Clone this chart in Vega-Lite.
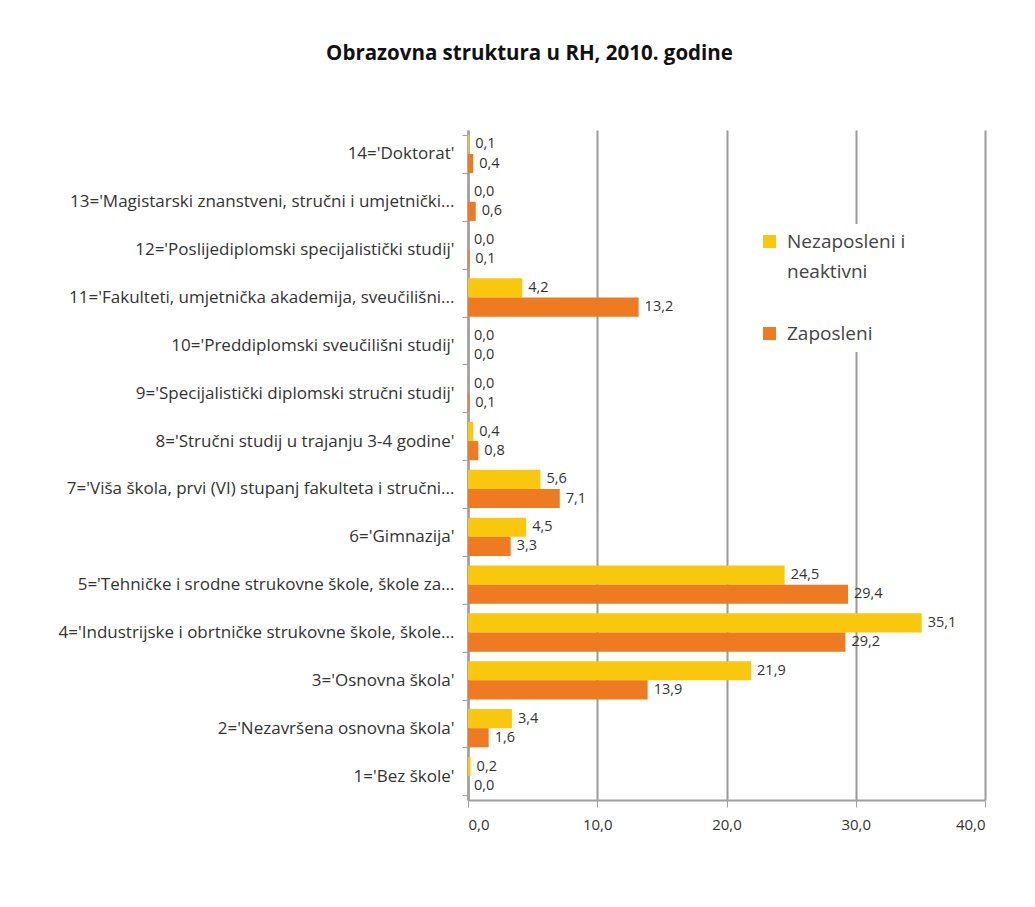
{
  "$schema": "https://vega.github.io/schema/vega-lite/v6.json",
  "autosize": {"type": "none"},
  "width": 517,
  "height": 670,
  "padding": {"left": 468, "top": 130, "right": 50, "bottom": 107},
  "background": "white",
  "config": {
    "locale": {"number": {"decimal": ",", "thousands": ".", "grouping": [3], "currency": ["", " kn"]}},
    "view": {"stroke": null},
    "font": "Open Sans",
    "style": {"guide-label": {"lineHeight": 30}}
  },
  "title": {
    "text": "Obrazovna struktura u RH, 2010. godine",
    "font": "Open Sans",
    "fontSize": 20.5,
    "fontWeight": "bold",
    "color": "#111111",
    "anchor": "middle",
    "frame": "group",
    "dx": -197,
    "offset": 57
  },
  "data": {
    "values": [
      {"cat": "14='Doktorat'", "series": "Nezaposleni i neaktivni", "value": 0.1},
      {"cat": "14='Doktorat'", "series": "Zaposleni", "value": 0.4},
      {"cat": "13='Magistarski znanstveni, stručni i umjetnički...", "series": "Nezaposleni i neaktivni", "value": 0.0},
      {"cat": "13='Magistarski znanstveni, stručni i umjetnički...", "series": "Zaposleni", "value": 0.6},
      {"cat": "12='Poslijediplomski specijalistički studij'", "series": "Nezaposleni i neaktivni", "value": 0.0},
      {"cat": "12='Poslijediplomski specijalistički studij'", "series": "Zaposleni", "value": 0.1},
      {"cat": "11='Fakulteti, umjetnička akademija, sveučilišni...", "series": "Nezaposleni i neaktivni", "value": 4.2},
      {"cat": "11='Fakulteti, umjetnička akademija, sveučilišni...", "series": "Zaposleni", "value": 13.2},
      {"cat": "10='Preddiplomski sveučilišni studij'", "series": "Nezaposleni i neaktivni", "value": 0.0},
      {"cat": "10='Preddiplomski sveučilišni studij'", "series": "Zaposleni", "value": 0.0},
      {"cat": "9='Specijalistički diplomski stručni studij'", "series": "Nezaposleni i neaktivni", "value": 0.0},
      {"cat": "9='Specijalistički diplomski stručni studij'", "series": "Zaposleni", "value": 0.1},
      {"cat": "8='Stručni studij u trajanju 3-4 godine'", "series": "Nezaposleni i neaktivni", "value": 0.4},
      {"cat": "8='Stručni studij u trajanju 3-4 godine'", "series": "Zaposleni", "value": 0.8},
      {"cat": "7='Viša škola, prvi (VI) stupanj fakulteta i stručni...", "series": "Nezaposleni i neaktivni", "value": 5.6},
      {"cat": "7='Viša škola, prvi (VI) stupanj fakulteta i stručni...", "series": "Zaposleni", "value": 7.1},
      {"cat": "6='Gimnazija'", "series": "Nezaposleni i neaktivni", "value": 4.5},
      {"cat": "6='Gimnazija'", "series": "Zaposleni", "value": 3.3},
      {"cat": "5='Tehničke i srodne strukovne škole, škole za...", "series": "Nezaposleni i neaktivni", "value": 24.5},
      {"cat": "5='Tehničke i srodne strukovne škole, škole za...", "series": "Zaposleni", "value": 29.4},
      {"cat": "4='Industrijske i obrtničke strukovne škole, škole...", "series": "Nezaposleni i neaktivni", "value": 35.1},
      {"cat": "4='Industrijske i obrtničke strukovne škole, škole...", "series": "Zaposleni", "value": 29.2},
      {"cat": "3='Osnovna škola'", "series": "Nezaposleni i neaktivni", "value": 21.9},
      {"cat": "3='Osnovna škola'", "series": "Zaposleni", "value": 13.9},
      {"cat": "2='Nezavršena osnovna škola'", "series": "Nezaposleni i neaktivni", "value": 3.4},
      {"cat": "2='Nezavršena osnovna škola'", "series": "Zaposleni", "value": 1.6},
      {"cat": "1='Bez škole'", "series": "Nezaposleni i neaktivni", "value": 0.2},
      {"cat": "1='Bez škole'", "series": "Zaposleni", "value": 0.0}
    ]
  },
  "encoding": {
    "y": {
      "field": "cat",
      "type": "nominal",
      "sort": null,
      "scale": {"paddingInner": 0.2, "paddingOuter": 0.1},
      "axis": {
        "title": null,
        "labelFont": "Open Sans",
        "labelFontSize": 17,
        "labelColor": "#333333",
        "labelLimit": 470,
        "labelPadding": 8,
        "domainColor": "#a0a0a0",
        "domainWidth": 2.5,
        "tickColor": "#a0a0a0",
        "tickSize": 6,
        "tickBand": "extent",
        "ticks": true,
        "grid": false
      }
    },
    "yOffset": {"field": "series", "type": "nominal", "sort": ["Nezaposleni i neaktivni", "Zaposleni"]},
    "x": {
      "field": "value",
      "type": "quantitative",
      "scale": {"domain": [0, 40], "nice": false},
      "axis": {
        "title": null,
        "values": [0, 10, 20, 30, 40],
        "format": ".1f",
        "labelFont": "Open Sans",
        "labelFontSize": 15,
        "labelColor": "#333333",
        "labelPadding": 10,
        "domainColor": "#a0a0a0",
        "domainWidth": 2,
        "tickColor": "#a0a0a0",
        "tickSize": 7,
        "grid": true,
        "gridColor": "#9a9a9a",
        "gridWidth": 2
      }
    }
  },
  "layer": [
    {
      "mark": {"type": "bar", "stroke": null},
      "encoding": {
        "color": {
          "field": "series",
          "type": "nominal",
          "sort": ["Nezaposleni i neaktivni", "Zaposleni"],
          "scale": {"domain": ["Nezaposleni i neaktivni", "Zaposleni"], "range": ["#F9C80E", "#EE7A22"]},
          "legend": {
            "title": null,
            "orient": "none",
            "legendX": 284,
            "legendY": 94,
            "symbolType": "square",
            "symbolSize": 170,
            "symbolStrokeWidth": 0,
            "labelFont": "Open Sans",
            "labelFontSize": 19,
            "labelColor": "#444444",
            "labelLimit": 230,
            "labelOffset": 8,
            "rowPadding": 42,
            "fillColor": "white",
            "padding": 8,
            "labelExpr": "datum.label == 'Nezaposleni i neaktivni' ? ['Nezaposleni i', 'neaktivni'] : datum.label"
          }
        }
      }
    },
    {
      "mark": {"type": "text", "align": "left", "dx": 6, "fontSize": 14.5, "color": "#333333", "font": "Open Sans"},
      "encoding": {
        "text": {"field": "value", "type": "quantitative", "format": ".1f"}
      }
    }
  ]
}
